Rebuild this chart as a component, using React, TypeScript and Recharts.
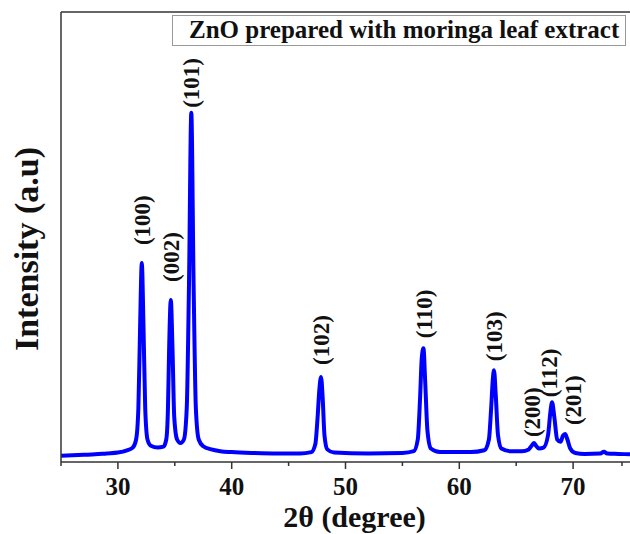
import React from 'react';
import { ComposedChart, Line, Scatter, XAxis, YAxis, ReferenceLine, Legend } from 'recharts';

// XRD pattern (2θ in degrees, intensity in arbitrary units 0-100)
const twoTheta = [
  25, 26, 27, 28, 29, 30, 30.8, 31.3, 31.6, 31.8, 31.95, 32.1, 32.25, 32.4, 32.6, 32.9,
  33.5, 34.0, 34.25, 34.4, 34.5, 34.65, 34.8, 34.95, 35.2, 35.5, 35.8, 36.05, 36.25, 36.45,
  36.65, 36.85, 37.1, 37.5, 38.2, 39, 40, 42, 44, 46, 47.0, 47.35, 47.55, 47.7, 47.85, 48.0,
  48.15, 48.4, 49, 52, 55, 56.0, 56.35, 56.55, 56.7, 56.85, 57.0, 57.2, 57.5, 58.3, 61, 62.2,
  62.6, 62.8, 62.95, 63.05, 63.2, 63.4, 63.7, 64.5, 65.5, 66.1, 66.35, 66.55, 66.75, 67.0,
  67.4, 67.8, 68.0, 68.15, 68.35, 68.6, 68.9, 69.1, 69.3, 69.5, 69.75, 70.2, 71, 72.4, 72.7,
  73.0, 74, 75,
];
const intensity = [
  1.4, 1.5, 1.6, 1.7, 1.9, 2.1, 2.6, 3.2, 5, 12, 30, 44.2, 30, 12, 5, 3.6,
  3.2, 3.4, 5, 12, 25, 36, 25, 10, 5, 4.2, 5, 12, 40, 77.6,
  40, 12, 5, 3.5, 2.8, 2.4, 2.2, 2.0, 1.9, 1.9, 2.2, 4, 10, 16, 18.9, 14,
  6, 2.8, 2.1, 1.9, 2.0, 2.4, 5, 14, 23, 25.3, 18, 7, 3, 2.2, 2.2, 2.6,
  5, 12, 18.5, 20.4, 15, 6, 3, 2.4, 2.4, 2.8, 3.6, 4.2, 3.6, 3.0,
  3.2, 6, 11, 13.3, 10, 5, 4.5, 5.8, 6.2, 5, 3, 2, 1.8, 1.9, 2.3,
  1.9, 1.8, 1.7,
];

// indexed reflections
const peakHkl = ['(100)', '(002)', '(101)', '(102)', '(110)', '(103)', '(200)', '(112)', '(201)'];
const peakTheta = [32.1, 34.65, 36.45, 47.85, 56.85, 63.05, 66.55, 68.15, 69.3];
const peakI = [44.2, 36, 77.6, 18.9, 25.3, 20.4, 4.2, 13.3, 6.2];

const xTicks = [25, 30, 35, 40, 45, 50, 55, 60, 65, 70, 75];

const pattern = twoTheta.map((t, k) => ({ t, i: intensity[k] }));
const peaks = peakHkl.map((hkl, k) => ({ t: peakTheta[k], i: peakI[k], hkl }));

// label placement tweaks (px): gap above peak, horizontal shift
const labelGap: Record<string, number> = {
  '(100)': 18, '(002)': 18, '(101)': 5, '(102)': 12, '(110)': 10,
  '(103)': 9, '(200)': 6, '(112)': 5, '(201)': 9,
};
const labelDx: Record<string, number> = { '(200)': -2, '(112)': -3, '(201)': 8 };

const serif = "'Liberation Serif', 'Times New Roman', serif";
const frame = '#333';

const XTick = (props: any) => {
  const { x, y, payload } = props;
  const major = payload.value % 10 === 0;
  return (
    <g>
      <line x1={x} x2={x} y1={y} y2={y + (major ? 7 : 4)} stroke={frame} strokeWidth={1.5} />
      {major && payload.value > 25 && payload.value < 75 && (
        <text x={x} y={y + 33} textAnchor="middle" fontFamily={serif} fontWeight="bold" fontSize={25} fill="#111">
          {payload.value}
        </text>
      )}
    </g>
  );
};

const PeakLabel = (props: any) => {
  const { cx, cy, payload } = props;
  const gap = labelGap[payload.hkl] ?? 10;
  const dx = labelDx[payload.hkl] ?? 0;
  return (
    <text
      transform={`translate(${cx + dx},${cy - gap}) rotate(-90)`}
      dy="0.35em"
      textAnchor="start"
      fontFamily={serif}
      fontWeight="bold"
      fontSize={23}
      fill="#111"
    >
      {payload.hkl}
    </text>
  );
};

const LegendBox = () => (
  <div
    style={{
      boxSizing: 'border-box',
      width: 454,
      height: 31,
      border: '1.5px solid #999',
      background: '#fff',
      paddingLeft: 16,
      fontFamily: serif,
      fontWeight: 'bold',
      fontSize: 25,
      lineHeight: '28px',
      color: '#111',
      whiteSpace: 'nowrap',
    }}
  >
    ZnO prepared with moringa leaf extract
  </div>
);

export default function App() {
  return (
    <div style={{ position: 'absolute', left: 0, top: 0, width: 630, height: 534, background: '#fff' }}>
      <ComposedChart width={630} height={534} margin={{ top: 12, right: 0, bottom: 0, left: 0 }}>
        <XAxis
          dataKey="t"
          type="number"
          domain={[25, 75]}
          ticks={xTicks}
          allowDataOverflow
          height={72}
          tickSize={0}
          tickMargin={0}
          tickLine={false}
          tick={<XTick />}
          axisLine={{ stroke: frame, strokeWidth: 1.5 }}
          label={(p: any) => {
            const vb = p.viewBox;
            return (
              <text x={vb.x + vb.width / 2 + 9} y={vb.y + 65} textAnchor="middle" fontFamily={serif} fontWeight="bold" fontSize={30} fill="#111">
                2θ (degree)
              </text>
            );
          }}
        />
        <YAxis
          dataKey="i"
          type="number"
          domain={[0, 100]}
          width={61}
          tick={false}
          tickLine={false}
          axisLine={{ stroke: frame, strokeWidth: 1.5 }}
          label={(p: any) => {
            const vb = p.viewBox;
            const cy = vb.y + vb.height / 2 + 12;
            return (
              <text transform={`translate(38,${cy}) rotate(-90)`} textAnchor="middle" fontFamily={serif} fontWeight="bold" fontSize={34} fill="#111">
                Intensity (a.u)
              </text>
            );
          }}
        />
        <ReferenceLine y={100} stroke={frame} strokeWidth={1.5} />
        <Line
          data={pattern}
          dataKey="i"
          type="monotone"
          stroke="#0000ff"
          strokeWidth={4}
          dot={false}
          isAnimationActive={false}
        />
        <Scatter data={peaks} dataKey="i" shape={<PeakLabel />} isAnimationActive={false} />
        <Legend
          layout="horizontal"
          verticalAlign="middle"
          align="center"
          content={<LegendBox />}
          wrapperStyle={{ top: 15, left: 172, width: 454, height: 31 }}
        />
      </ComposedChart>
    </div>
  );
}
